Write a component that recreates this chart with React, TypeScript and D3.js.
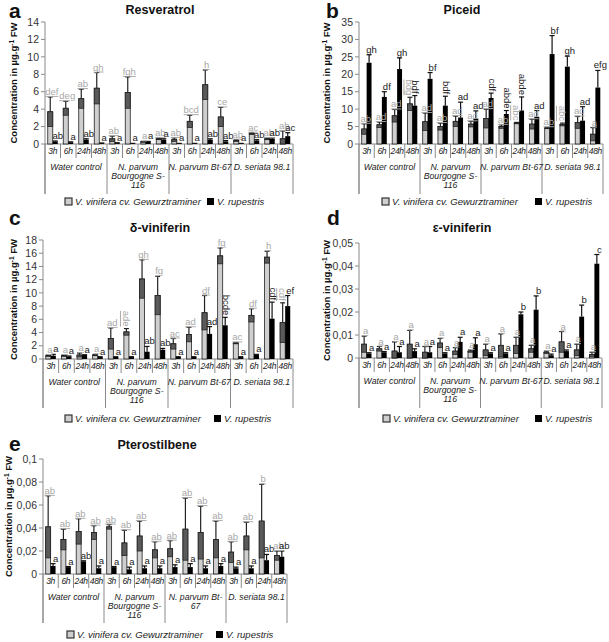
import React from "react";
import * as d3 from "d3";

const groups = ["Water control", "N. parvum Bourgogne S-116", "N. parvum Bt-67", "D. seriata 98.1"];
const times = ["3h", "6h", "24h", "48h"];
const groupLines = [["Water control"], ["N. parvum", "Bourgogne S-", "116"], ["N. parvum Bt-67"], ["D. seriata 98.1"]];
const groupLinesE = [["Water control"], ["N. parvum", "Bourgogne S-", "116"], ["N. parvum Bt-", "67"], ["D. seriata 98.1"]];
const seriesNames = ["V. vinifera cv. Gewurztraminer", "V. rupestris"];

// a - Resveratrol
const resVin = [3.7, 4.1, 5.2, 6.4, 0.6, 5.9, 0.25, 0.6, 0.5, 2.6, 6.8, 3.1, 0.4, 1.2, 0.6, 0.6];
const resVinErr = [1.7, 0.8, 1.1, 1.8, 0.3, 1.8, 0.05, 0.1, 0.2, 0.7, 1.7, 1.1, 0.1, 0.1, 0.1, 0.9];
const resRup = [0.3, 0.2, 0.5, 0.1, 0.1, 0.05, 0.25, 0.5, 0.05, 0.05, 0.5, 0.3, 0.05, 0.4, 0.6, 0.9];
const resRupErr = [0.05, 0.05, 0.1, 0.02, 0.05, 0.02, 0.05, 0.1, 0.02, 0.02, 0.1, 0.1, 0.02, 0.1, 0.1, 0.4];
const resVinLab = ["def", "deg", "ab", "gh", "ab", "fgh", "a", "ab", "ab", "bcd", "h", "ce", "ab", "ac", "ab", "ab"];
const resRupLab = ["ab", "a", "ab", "a", "a", "a", "a", "a", "a", "a", "ab", "ab", "a", "ab", "ab", "ac"];

// b - Piceid
const picVin = [4.3, 5.5, 8.1, 11.5, 6.4, 5.0, 6.5, 5.7, 7.3, 5.0, 6.0, 5.7, 4.6, 5.6, 6.2, 2.8];
const picVinErr = [1.5, 0.8, 1.8, 1.9, 2.5, 1.0, 1.5, 0.8, 2.7, 0.5, 0.2, 1.4, 0.2, 0.4, 1.7, 1.9];
const picRup = [23.3, 13.5, 21.5, 11.0, 18.7, 11.0, 7.6, 7.3, 13.2, 8.6, 9.6, 7.8, 25.8, 22.2, 6.7, 16.2];
const picRupErr = [2.3, 1.5, 3.2, 2.9, 1.8, 2.7, 4.4, 2.2, 1.4, 1.0, 3.9, 1.8, 5.3, 3.0, 4.0, 4.9];
const picVinLab = ["ab", "ad", "ad", "|bdg", "ad", "ab", "ad", "ad", "ad", "ab", "|abc", "ad", "ab", "|abc", "ad", "a"];
const picRupLab = ["gh", "df", "gh", "|bdf", "bf", "|bdf", "ad", "ad", "|cdf", "|abde", "|abde", "ad", "bf", "gh", "ad", "efg"];

// c - delta-viniferin
const dvVin = [0.5, 0.5, 0.6, 0.6, 3.1, 4.1, 12.1, 9.6, 2.3, 3.7, 7.0, 15.6, 2.4, 6.6, 15.4, 5.5];
const dvVinErr = [0.1, 0.1, 0.3, 0.1, 1.6, 0.5, 2.9, 2.9, 0.8, 1.1, 2.6, 1.2, 0.1, 1.0, 0.9, 3.0];
const dvRup = [0.5, 0.4, 0.6, 0.3, 0.3, 0.3, 1.1, 1.4, 0.3, 0.3, 3.8, 5.1, 0.3, 0.6, 6.1, 8.0];
const dvRupErr = [0.2, 0.05, 0.05, 0.05, 0.05, 0.05, 0.8, 0.2, 0.05, 0.05, 1.1, 1.2, 0.05, 0.1, 2.5, 1.6];
const dvVinLab = ["a", "a", "a", "a", "ad", "|ade", "gh", "fg", "ac", "ad", "df", "fg", "ac", "df", "h", "|cdf"];
const dvRupLab = ["a", "a", "a", "a", "a", "a", "ab", "ab", "a", "a", "ad", "|bcde", "a", "a", "|cdf", "ef"];

// d - epsilon-viniferin
const evVin = [0.006, 0.004, 0.003, 0.006, 0.0025, 0.0065, 0.003, 0.003, 0.0035, 0.0055, 0.0055, 0.004, 0.0025, 0.007, 0.0035, 0.0015];
const evVinErr = [0.0035, 0.001, 0.004, 0.006, 0.0025, 0.002, 0.0015, 0.0005, 0.0025, 0.005, 0.0035, 0.0015, 0.0005, 0.0045, 0.0025, 0.001];
const evRup = [0.002, 0.0025, 0.0025, 0.003, 0.0025, 0.002, 0.007, 0.006, 0.002, 0.002, 0.019, 0.021, 0.0012, 0.003, 0.018, 0.041];
const evRupErr = [0.0003, 0.0003, 0.0025, 0.001, 0.0025, 0.0003, 0.002, 0.0028, 0.0003, 0.0003, 0.001, 0.006, 0.0005, 0.0005, 0.005, 0.004];
const evVinLab = ["a", "a", "a", "a", "a", "a", "a", "a", "a", "a", "a", "a", "a", "a", "a", "a"];
const evRupLab = ["a", "a", "a", "a", "a", "a", "a", "a", "a", "a", "b", "b", "a", "a", "b", "c"];

// e - Pterostilbene
const ptVin = [0.041, 0.030, 0.037, 0.036, 0.041, 0.027, 0.033, 0.021, 0.022, 0.039, 0.036, 0.030, 0.019, 0.033, 0.046, 0.016];
const ptVinErr = [0.027, 0.009, 0.011, 0.006, 0.002, 0.011, 0.013, 0.007, 0.007, 0.027, 0.023, 0.016, 0.009, 0.012, 0.032, 0.004];
const ptRup = [0.007, 0.006, 0.011, 0.005, 0.006, 0.004, 0.005, 0.005, 0.006, 0.006, 0.005, 0.007, 0.005, 0.005, 0.012, 0.015];
const ptRupErr = [0.002, 0.0005, 0.0005, 0.002, 0.0005, 0.002, 0.002, 0.002, 0.002, 0.003, 0.002, 0.002, 0.001, 0.002, 0.005, 0.005];
const ptVinLab = ["ab", "ab", "ab", "ab", "ab", "ab", "ab", "ab", "ab", "ab", "ab", "ab", "ab", "ab", "b", "ab"];
const ptRupLab = ["a", "a", "ab", "a", "a", "a", "a", "a", "a", "a", "a", "a", "a", "a", "ab", "ab"];

const FONT = "'Liberation Sans', Arial, sans-serif";
const fmt = d3.formatLocale({ decimal: ",", thousands: ".", grouping: [3], currency: ["", ""] }).format("~g");

type PanelProps = {
  letter: string; title: string; titleX: number; titleY: number; letterX: number; letterY: number;
  x0: number; x1: number; yTop: number; y0: number; max: number; tickCount: number;
  ylabX: number; sepBottom: number; lines: string[][];
  vin: number[]; vinErr: number[]; rup: number[]; rupErr: number[]; vinLab: string[]; rupLab: string[];
  legendX: number; legendX2: number; legendY: number;
};

const Label = ({ x, y, text, gray }: { x: number; y: number; text: string; gray: boolean }) => {
  const rotated = text.startsWith("|");
  const t = rotated ? text.slice(1) : text;
  const fill = gray ? "#a8a8a8" : "#222";
  if (rotated) {
    return (
      <text transform={`translate(${x},${y - 2}) rotate(90)`} textAnchor="end" dominantBaseline="central"
        fontSize={9.5} fill={fill} fontFamily={FONT} textDecoration={gray ? "underline" : undefined}>{t}</text>
    );
  }
  return (
    <text x={x + 1.5} y={y - 2} textAnchor="middle" fontSize={9.5} fill={fill} fontFamily={FONT}
      textDecoration={gray ? "underline" : undefined}>{t}</text>
  );
};

const Panel = (p: PanelProps) => {
  const y = d3.scaleLinear().domain([0, p.max]).range([p.y0, p.yTop]);
  const cats = d3.range(16);
  const x = d3.scaleBand<number>().domain(cats).range([p.x0, p.x1]);
  const sub = d3.scaleBand<string>().domain(["v", "r"]).range([0, x.bandwidth()]).paddingOuter(0.55);
  const bw = sub.bandwidth();
  const axis = "#8a8a8a";
  const ticks = y.ticks(p.tickCount);
  const rowH = 14;
  return (
    <g fontFamily={FONT}>
      <text x={p.letterX} y={p.letterY} fontSize={21} fontWeight="bold" fill="#111">{p.letter}</text>
      <text x={p.titleX} y={p.titleY} fontSize={12.5} fontWeight="bold" textAnchor="middle" fill="#111">{p.title}</text>
      <text transform={`translate(${p.ylabX},${(p.yTop + p.y0) / 2}) rotate(-90)`} textAnchor="middle"
        fontSize={9.5} fontWeight="bold" fill="#111">
        Concentration in µg.g<tspan dy={-3.5} fontSize={6.5}>-1</tspan><tspan dy={3.5}> FW</tspan>
      </text>
      {/* y axis */}
      <line x1={p.x0} x2={p.x0} y1={p.yTop} y2={p.sepBottom} stroke={axis} />
      {ticks.map((t) => (
        <g key={t}>
          <line x1={p.x0 - 4} x2={p.x0} y1={y(t)} y2={y(t)} stroke={axis} />
          <text x={p.x0 - 6} y={y(t)} dy="0.35em" textAnchor="end" fontSize={10.5} fill="#333">{fmt(t)}</text>
        </g>
      ))}
      {/* category axis */}
      <line x1={p.x0} x2={p.x1} y1={p.y0} y2={p.y0} stroke={axis} />
      {d3.range(17).map((i) => {
        const xx = i < 16 ? x(i)! : p.x1;
        const isGroup = i % 4 === 0;
        return <line key={i} x1={xx} x2={xx} y1={p.y0} y2={isGroup ? p.sepBottom : p.y0 + rowH} stroke={axis} />;
      })}
      {cats.map((i) => (
        <text key={i} x={x(i)! + x.bandwidth() / 2} y={p.y0 + 10} textAnchor="middle" fontSize={8.5}
          letterSpacing={-0.3} fontStyle="italic" fill="#222">{times[i % 4]}</text>
      ))}
      {groups.map((g, gi) => {
        const cx = (x(gi * 4)! + (gi === 3 ? p.x1 : x(gi * 4 + 4)!)) / 2;
        return (
          <text key={g} x={cx} y={p.y0 + 26} textAnchor="middle" fontSize={8.7} fontStyle="italic" fill="#222">
            {p.lines[gi].map((l, li) => (
              <tspan key={li} x={cx} dy={li === 0 ? 0 : 9}>{l}</tspan>
            ))}
          </text>
        );
      })}
      {/* bars */}
      {cats.map((i) => {
        const xv = x(i)! + sub("v")!;
        const xr = x(i)! + sub("r")!;
        const v = p.vin[i], ve = p.vinErr[i], r = p.rup[i], re = p.rupErr[i];
        return (
          <g key={i}>
            <rect x={xv} y={y(v)} width={bw} height={p.y0 - y(v)} fill="#cfcfcf" stroke="#222" strokeWidth={0.8} />
            <rect x={xv} y={y(v)} width={bw} height={y(Math.max(0, v - ve)) - y(v)} fill="#5a5a5a" stroke="#222" strokeWidth={0.8} />
            <line x1={xv + bw / 2} x2={xv + bw / 2} y1={y(v)} y2={y(v + ve)} stroke="#222" strokeWidth={1.2} />
            <line x1={xv + bw / 2 - 2.5} x2={xv + bw / 2 + 2.5} y1={y(v + ve)} y2={y(v + ve)} stroke="#222" strokeWidth={1.2} />
            <rect x={xr} y={y(r)} width={bw} height={p.y0 - y(r)} fill="#000" />
            <line x1={xr + bw / 2} x2={xr + bw / 2} y1={y(r)} y2={y(r + re)} stroke="#111" strokeWidth={1.2} />
            <line x1={xr + bw / 2 - 2.5} x2={xr + bw / 2 + 2.5} y1={y(r + re)} y2={y(r + re)} stroke="#111" strokeWidth={1.2} />
            <Label x={xv + bw / 2} y={y(v + ve)} text={p.vinLab[i]} gray={true} />
            <Label x={xr + bw / 2 + 1} y={y(r + re)} text={p.rupLab[i]} gray={false} />
          </g>
        );
      })}
      {/* legend */}
      <rect x={p.legendX} y={p.legendY - 4} width={7} height={7} fill="#cfcfcf" stroke="#333" strokeWidth={1.2} />
      <text x={p.legendX + 10} y={p.legendY} dy="0.35em" fontSize={9.5} fontStyle="italic" fill="#222">{seriesNames[0]}</text>
      <rect x={p.legendX2} y={p.legendY - 4} width={7} height={7} fill="#000" />
      <text x={p.legendX2 + 10} y={p.legendY} dy="0.35em" fontSize={9.5} fontStyle="italic" fill="#222">{seriesNames[1]}</text>
    </g>
  );
};

export default function App() {
  return (
    <svg width={609} height={642} style={{ position: "absolute", left: 0, top: 0, background: "#fff" }}>
      <Panel letter="a" title="Resveratrol" titleX={160} titleY={14} letterX={9} letterY={18}
        x0={45} x1={293} yTop={22} y0={144} max={14} tickCount={7} ylabX={17} sepBottom={194}
        lines={groupLines} vin={resVin} vinErr={resVinErr} rup={resRup} rupErr={resRupErr}
        vinLab={resVinLab} rupLab={resRupLab} legendX={65} legendX2={207} legendY={202} />
      <Panel letter="b" title="Piceid" titleX={462} titleY={14} letterX={326} letterY={18}
        x0={359} x1={603} yTop={22} y0={144} max={35} tickCount={7} ylabX={330} sepBottom={194}
        lines={groupLines} vin={picVin} vinErr={picVinErr} rup={picRup} rupErr={picRupErr}
        vinLab={picVinLab} rupLab={picRupLab} legendX={382} legendX2={535} legendY={202} />
      <Panel letter="c" title="δ-viniferin" titleX={160} titleY={232} letterX={9} letterY={225}
        x0={43} x1={293} yTop={240} y0={359} max={18} tickCount={9} ylabX={17} sepBottom={408}
        lines={groupLines} vin={dvVin} vinErr={dvVinErr} rup={dvRup} rupErr={dvRupErr}
        vinLab={dvVinLab} rupLab={dvRupLab} legendX={65} legendX2={214} legendY={419} />
      <Panel letter="d" title="ε-viniferin" titleX={462} titleY={232} letterX={327} letterY={225}
        x0={359} x1={602} yTop={243} y0={358} max={0.05} tickCount={5} ylabX={330} sepBottom={408}
        lines={groupLines} vin={evVin} vinErr={evVinErr} rup={evRup} rupErr={evRupErr}
        vinLab={evVinLab} rupLab={evRupLab} legendX={383} legendX2={535} legendY={419} />
      <Panel letter="e" title="Pterostilbene" titleX={157} titleY={449} letterX={9} letterY={451}
        x0={43} x1={287} yTop={459} y0={574} max={0.1} tickCount={5} ylabX={12} sepBottom={623}
        lines={groupLinesE} vin={ptVin} vinErr={ptVinErr} rup={ptRup} rupErr={ptRupErr}
        vinLab={ptVinLab} rupLab={ptRupLab} legendX={67} legendX2={216} legendY={635} />
    </svg>
  );
}
